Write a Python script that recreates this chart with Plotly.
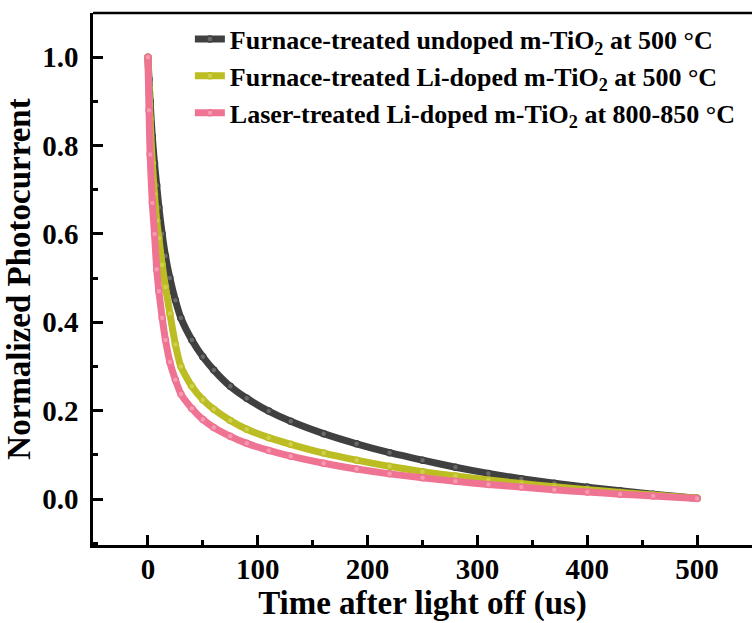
import plotly.graph_objects as go

time_us = [0, 1, 2, 4, 6, 8, 10, 13, 16, 20, 25, 30, 40, 50, 60, 75, 90, 110, 130,
           160, 190, 220, 250, 280, 310, 340, 370, 400, 430, 460, 500]

undoped_furnace = [1.0, 0.95, 0.90, 0.82, 0.76, 0.71, 0.66, 0.60, 0.55, 0.50, 0.45, 0.41,
                   0.36, 0.322, 0.292, 0.255, 0.228, 0.199, 0.176, 0.148, 0.125, 0.105, 0.088,
                   0.072, 0.058, 0.046, 0.036, 0.027, 0.019, 0.011, 0.002]

li_furnace = [1.0, 0.93, 0.86, 0.76, 0.69, 0.63, 0.59, 0.53, 0.48, 0.42, 0.35, 0.30,
              0.255, 0.225, 0.203, 0.178, 0.158, 0.139, 0.124, 0.104, 0.088, 0.074, 0.062,
              0.052, 0.043, 0.035, 0.028, 0.021, 0.015, 0.009, 0.002]

li_laser = [1.0, 0.88, 0.78, 0.67, 0.60, 0.52, 0.47, 0.41, 0.36, 0.31, 0.27, 0.238,
            0.205, 0.18, 0.162, 0.142, 0.126, 0.11, 0.097, 0.081, 0.068, 0.057, 0.048,
            0.04, 0.033, 0.027, 0.021, 0.016, 0.011, 0.007, 0.001]

series_names = [
    "Furnace-treated undoped m-TiO<sub>2</sub> at 500 °C",
    "Furnace-treated Li-doped m-TiO<sub>2</sub> at 500 °C",
    "Laser-treated Li-doped m-TiO<sub>2</sub> at 800-850 °C",
]
series_values = [undoped_furnace, li_furnace, li_laser]
line_colors = ["#404040", "#bcbd22", "#ef7393"]
fill_colors = ["#6a6a6a", "#cfd050", "#f59ab0"]

x_ticks = [0, 100, 200, 300, 400, 500]
y_ticks = [0.0, 0.2, 0.4, 0.6, 0.8, 1.0]

FONT = "Liberation Serif"

fig = go.Figure()
for i, (name, vals) in enumerate(zip(series_names, series_values)):
    fig.add_trace(go.Scatter(
        x=time_us, y=vals, name=name, mode="lines+markers",
        legendgroup=f"g{i}",
        line=dict(color=line_colors[i], width=7, shape="spline", smoothing=0.6),
        marker=dict(symbol="circle", size=6, color=fill_colors[i],
                    line=dict(color=line_colors[i], width=1.5)),
    ))

axis_common = dict(
    showgrid=False, zeroline=False, showline=True, linecolor="black", linewidth=2.5,
    ticks="inside", ticklen=10, tickwidth=2.5, tickcolor="black", automargin=False,
    tickfont=dict(family=FONT, size=29, color="black", weight="bold"),
)

fig.update_layout(
    width=752, height=623,
    margin=dict(l=93, r=0, t=13, b=78),
    paper_bgcolor="white", plot_bgcolor="white",
    showlegend=True,
    legend=dict(x=0.147, y=0.995, xanchor="left", yanchor="top",
                bgcolor="rgba(0,0,0,0)", tracegroupgap=0,
                font=dict(family=FONT, size=26, color="black", weight="bold")),
    xaxis=dict(range=[-50, 550], tickvals=x_ticks, ticklabelstandoff=-4,
               minor=dict(ticks="inside", ticklen=5, tickwidth=2.5, dtick=50, tick0=0, tickcolor="black"),
               title=dict(text="Time after light off (us)", standoff=5,
                          font=dict(family=FONT, size=33, color="black", weight="bold")),
               **axis_common),
    yaxis=dict(range=[-0.104, 1.1], tickvals=y_ticks, tickformat=".1f", ticklabelstandoff=6,
               minor=dict(ticks="inside", ticklen=5, tickwidth=2.5, dtick=0.1, tick0=0, tickcolor="black"),
               title=dict(text="Normalized Photocurrent", standoff=2,
                          font=dict(family=FONT, size=33, color="black", weight="bold")),
               **axis_common),
    shapes=[dict(type="line", xref="paper", yref="paper", x0=0, x1=1, y0=1, y1=1,
                 line=dict(color="black", width=2.5))],
)

fig.write_html("out.html", config={"displayModeBar": False},
               post_script="document.body.style.margin='0';document.body.style.overflow='hidden';")
